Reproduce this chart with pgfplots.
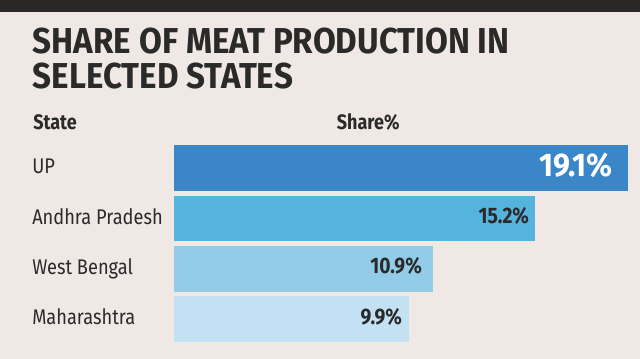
\documentclass[border=0pt]{standalone}
\usepackage{fontspec}
\setmainfont{Fira Sans}[FakeStretch=0.86]
\newfontfamily\titlefont{Fira Sans}[FakeStretch=0.92]
\usepackage{pgfplots}
\pgfplotsset{compat=1.18}
\definecolor{bg}{HTML}{F0E8E4}
\definecolor{topbar}{HTML}{2A2727}
\definecolor{txt}{HTML}{2A2A2A}
\definecolor{cUP}{HTML}{3A86C7}
\definecolor{cAP}{HTML}{54B4DE}
\definecolor{cWB}{HTML}{92CCE9}
\definecolor{cMH}{HTML}{C2E2F4}
\begin{document}
\begin{tikzpicture}
\fill[bg] (0,0) rectangle (480pt,269.25pt);
\fill[topbar] (0,260.25pt) rectangle (480pt,269.25pt);
\node[anchor=base west, inner sep=0pt, text=txt, font=\titlefont\bfseries\fontsize{27}{28}\selectfont] at (24.5pt,229.3pt) {SHARE OF MEAT PRODUCTION IN};
\node[anchor=base west, inner sep=0pt, text=txt, font=\titlefont\bfseries\fontsize{27}{28}\selectfont] at (24.5pt,203pt) {SELECTED STATES};
\node[anchor=base west, inner sep=0pt, text=txt, font=\bfseries\fontsize{15.7}{16}\selectfont] at (24.75pt,172.3pt) {State};
\node[anchor=base west, inner sep=0pt, text=txt, font=\bfseries\fontsize{15.7}{16}\selectfont] at (252.5pt,172.3pt) {Share\%};
\begin{axis}[
  at={(130.5pt,162.15pt)}, anchor=north west,
  scale only axis, width=349.4pt, height=151.2pt,
  xmin=0, xmax=19.6, ymin=-0.5, ymax=3.5, y dir=reverse,
  xbar, bar width=34.1pt, bar shift=0pt,
  axis line style={draw=none}, xtick=\empty,
  ytick={0,1,2,3},
  yticklabels={UP,Andhra Pradesh,West Bengal,Maharashtra},
  major tick length=0pt,
  yticklabel style={anchor=base west, inner sep=0pt, xshift=-106.5pt, yshift=-4.35pt,
    font=\fontsize{15.9}{16}\selectfont, text=txt},
  clip=false,
  point meta=x,
  nodes near coords={\pgfmathprintnumber[fixed,precision=1,fixed zerofill,assume math mode=true]{\pgfplotspointmeta}\%},
  every node near coord/.append style={anchor=base east, inner sep=0pt, text=txt,
    font=\bfseries\fontsize{16.8}{17}\selectfont, yshift=-3.9pt},
]
\addplot[fill=cUP, draw=none, every node near coord/.append style={text=white, font=\titlefont\bfseries\fontsize{24.6}{25}\selectfont, xshift=-11.25pt, yshift=-2.6pt}] coordinates {(19.1,0)};
\addplot[fill=cAP, draw=none, every node near coord/.append style={xshift=-4.5pt}] coordinates {(15.2,1)};
\addplot[fill=cWB, draw=none, every node near coord/.append style={xshift=-8.25pt}] coordinates {(10.9,2)};
\addplot[fill=cMH, draw=none, every node near coord/.append style={xshift=-5.25pt}] coordinates {(9.9,3)};
\end{axis}
\end{tikzpicture}
\end{document}
